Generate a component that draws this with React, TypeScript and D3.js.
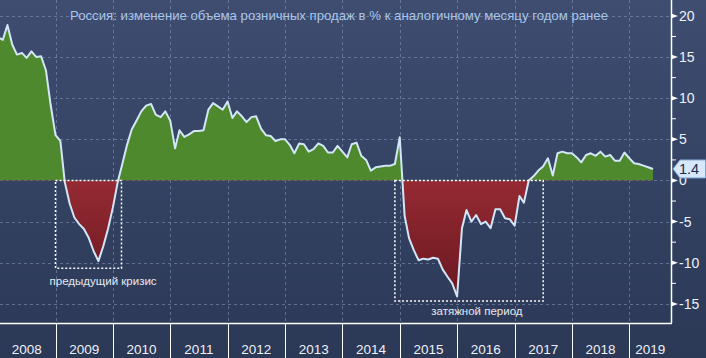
import React from "react";
import * as d3 from "d3";

const TITLE = "Россия: изменение объема розничных продаж в % к аналогичному месяцу годом ранее";
const YEAR_LABELS = ["2008", "2009", "2010", "2011", "2012", "2013", "2014", "2015", "2016", "2017", "2018", "2019"];
const SERIES_START = "2007-12-01";
// monthly values, % y/y, Dec 2007 .. May 2019
const RETAIL_YOY = [
  17.4,
  17.1, 18.9, 16.5, 15.3, 15.5, 14.9, 15.7, 15.0, 15.1, 13.4, 9.2, 5.5,
  4.8, -0.2, -2.8, -4.5, -5.3, -5.9, -7.0, -8.6, -9.8, -8.0, -5.9, -3.3,
  -0.2, 1.9, 4.3, 6.2, 7.3, 8.4, 9.1, 9.3, 8.0, 7.7, 8.4, 7.3,
  3.9, 6.1, 5.3, 5.6, 6.0, 6.0, 6.1, 8.6, 9.4, 9.0, 8.6, 9.6,
  7.6, 8.4, 7.8, 7.1, 7.7, 7.8, 6.3, 5.5, 5.4, 4.8, 5.0, 5.0,
  4.3, 3.3, 4.5, 4.4, 3.5, 3.8, 4.5, 4.2, 3.4, 3.4, 4.2, 3.5,
  2.8, 4.4, 4.6, 3.0, 2.5, 1.2, 1.6, 1.7, 1.8, 1.8, 2.0, 5.25,
  -4.3, -7.0, -8.5, -9.7, -9.5, -9.6, -9.4, -9.5, -10.8, -11.7, -12.5, -14.1,
  -5.8, -3.6, -5.0, -4.2, -5.3, -5.0, -5.8, -3.5, -3.5, -4.6, -4.7, -5.5,
  -1.9, -2.7, 0.0, 0.5, 1.2, 1.7, 2.7, 0.6, 3.3, 3.5, 3.3, 3.3,
  2.8, 2.2, 3.1, 3.3, 3.0, 3.5, 2.9, 3.1, 2.4, 2.4, 3.4, 2.7,
  2.1, 2.0, 1.8, 1.6, 1.4,
];
const LAST_LABEL = "1.4";
const Y_TICKS = [-15, -10, -5, 0, 5, 10, 15, 20];
const Y_MINOR = [-12.5, -7.5, -2.5, 2.5, 7.5, 12.5, 17.5];
const BOX_LABELS = ["предыдущий кризис", "затяжной период"];
const BOX_FROM = ["2009-01-01", "2014-12-01"];
const BOX_TO = ["2010-02-25", "2017-07-02"];
const BOX_LOW = [-10.67, -14.65];
const BOX_LABEL_AT = ["2009-10-31", "2016-05-06"];
const BOX_LABEL_Y = [-12.75, -16.4];

const W = 706;
const H = 358;
const PR = 671;
const PB = 323;
const FONT = "Tahoma, 'Liberation Sans', Arial, sans-serif";

export default function App() {
  const x = d3
    .scaleTime()
    .domain([new Date(2008, 0, 1), new Date(2019, 0, 1)])
    .range([-2, 629.3]);
  const y = d3.scaleLinear().domain([-15, 20]).range([303.9, 15.9]);
  const start = new Date(SERIES_START);
  const startLocal = new Date(start.getUTCFullYear(), start.getUTCMonth(), 1);
  const pts = RETAIL_YOY.map((v, i) => ({
    d: d3.timeMonth.offset(startLocal, i + 1),
    v,
  }));
  const y0 = y(0);
  const area = d3
    .area<{ d: Date; v: number }>()
    .x((p) => x(p.d))
    .y0(y0)
    .y1((p) => y(p.v))(pts) as string;
  const line = d3
    .line<{ d: Date; v: number }>()
    .x((p) => x(p.d))
    .y((p) => y(p.v))(pts) as string;

  const yearStarts = YEAR_LABELS.map((yy) => new Date(+yy, 0, 1));
  const parse = (s: string) => {
    const [a, b, c] = s.split("-").map(Number);
    return new Date(a, b - 1, c);
  };
  const last = pts[pts.length - 1];
  const ly = y(last.v);

  return (
    <svg
      width={W}
      height={H}
      style={{ position: "absolute", left: 0, top: 0, display: "block" }}
      fontFamily={FONT}
    >
      <defs>
        <linearGradient id="bg" x1="0" y1="0" x2="0" y2="1">
          <stop offset="0" stopColor="#3e4d70" />
          <stop offset="1" stopColor="#2b3856" />
        </linearGradient>
        <linearGradient id="red" gradientUnits="userSpaceOnUse" x1="0" y1={y0} x2="0" y2={y(-14)}>
          <stop offset="0" stopColor="#952a33" />
          <stop offset="1" stopColor="#6b1820" />
        </linearGradient>
        <clipPath id="plot">
          <rect x={0} y={0} width={PR} height={PB} />
        </clipPath>
        <clipPath id="above">
          <rect x={0} y={0} width={PR} height={y0} />
        </clipPath>
        <clipPath id="below">
          <rect x={0} y={y0} width={PR} height={PB - y0} />
        </clipPath>
      </defs>
      <rect x={0} y={0} width={W} height={H} fill="url(#bg)" />

      {/* grid */}
      <g stroke="#7f93b5" strokeOpacity={0.6} strokeWidth={1} strokeDasharray="3,3">
        {Y_TICKS.map((t) => (
          <line key={t} x1={0} x2={PR} y1={Math.round(y(t)) + 0.5} y2={Math.round(y(t)) + 0.5} />
        ))}
        {yearStarts.slice(1).map((d, i) => (
          <line key={i} x1={Math.round(x(d)) + 0.5} x2={Math.round(x(d)) + 0.5} y1={0} y2={PB} />
        ))}
      </g>

      <g clipPath="url(#plot)">
        <path d={area} fill="#4e8a2d" clipPath="url(#above)" />
        <path d={area} fill="url(#red)" clipPath="url(#below)" />
        <path d={line} fill="none" stroke="#d3e6f8" strokeWidth={2} strokeLinejoin="round" />
      </g>

      {/* annotation boxes */}
      {BOX_LABELS.map((lab, i) => {
        const x1 = x(parse(BOX_FROM[i]));
        const x2 = x(parse(BOX_TO[i]));
        const yb = y(BOX_LOW[i]);
        return (
          <g key={lab}>
            <rect
              x={x1}
              y={y0}
              width={x2 - x1}
              height={yb - y0}
              fill="none"
              stroke="#ffffff"
              strokeWidth={1.5}
              strokeDasharray="2,2"
            />
            <text
              x={x(parse(BOX_LABEL_AT[i]))}
              y={y(BOX_LABEL_Y[i])}
              textAnchor="middle"
              fontSize={11.5}
              fill="#e4e9f2"
            >
              {lab}
            </text>
          </g>
        );
      })}

      {/* title */}
      <text x={339} y={20} textAnchor="middle" fontSize={13} fill="#a9c6ea" textLength={538} lengthAdjust="spacingAndGlyphs">
        {TITLE}
      </text>

      {/* axes */}
      <line x1={PR + 0.5} x2={PR + 0.5} y1={0} y2={PB} stroke="#ffffff" strokeWidth={1.5} />
      <line x1={0} x2={PR + 1} y1={PB + 0.5} y2={PB + 0.5} stroke="#ffffff" strokeWidth={1.5} />
      {yearStarts.slice(1).map((d, i) => (
        <line key={i} x1={Math.round(x(d)) + 0.5} x2={Math.round(x(d)) + 0.5} y1={PB} y2={H} stroke="#ffffff" strokeWidth={1} />
      ))}
      {YEAR_LABELS.map((lab, i) => {
        const a = x(yearStarts[i]);
        const b = i < YEAR_LABELS.length - 1 ? x(yearStarts[i + 1]) : PR;
        return (
          <text key={lab} x={(a + b) / 2} y={354} textAnchor="middle" fontSize={13.5} fill="#eef2f8">
            {lab}
          </text>
        );
      })}
      {Y_MINOR.map((t) => (
        <line key={t} x1={PR} x2={PR + 5} y1={y(t)} y2={y(t)} stroke="#ffffff" strokeWidth={1} />
      ))}
      {Y_TICKS.map((t) => (
        <g key={t}>
          <path d={`M${PR},${y(t) - 2.5}L${PR + 7},${y(t)}L${PR},${y(t) + 2.5}Z`} fill="#ffffff" />
          {Math.abs(ly - y(t)) > 8 || t !== 0 ? (
            <text x={679} y={y(t) + 5} fontSize={14} fill="#eef2f8">
              {t < 0 ? "-" + Math.abs(t) : String(t)}
            </text>
          ) : null}
        </g>
      ))}

      {/* last value label */}
      <path
        d={`M${PR + 2},${ly}L${PR + 9},${ly - 9}H${W - 0.5}V${ly + 9}H${PR + 9}Z`}
        fill="#d6e8f9"
        stroke="#7fa6d6"
        strokeWidth={1}
      />
      <text x={689} y={ly + 5.5} textAnchor="middle" fontSize={14.5} fill="#1b2b4b">
        {LAST_LABEL}
      </text>
    </svg>
  );
}
